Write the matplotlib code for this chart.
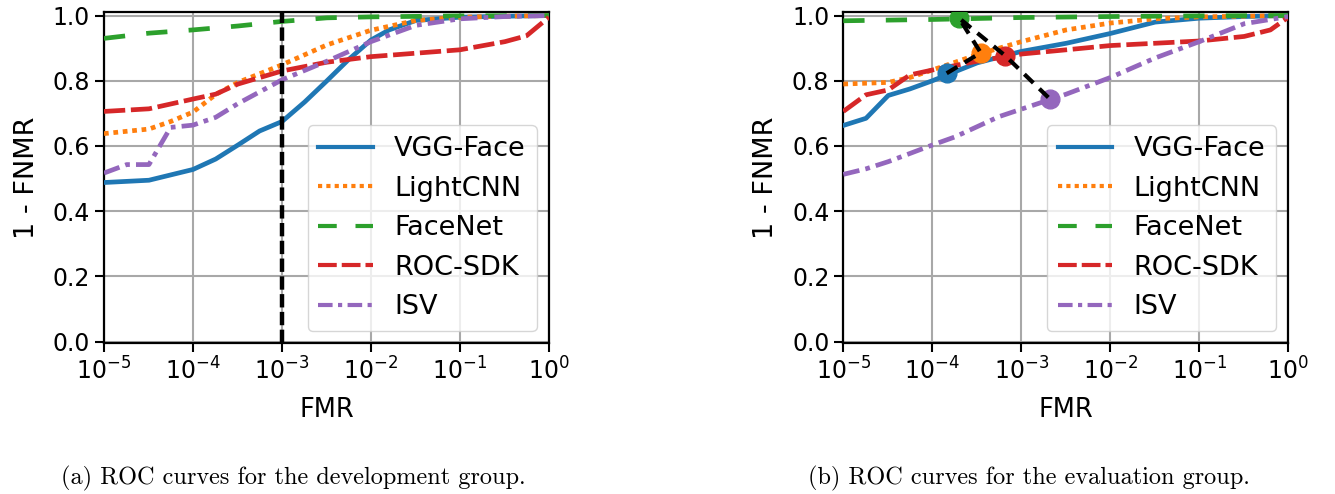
import numpy as np
import matplotlib
matplotlib.use("Agg")
import matplotlib.pyplot as plt
from matplotlib.ticker import NullLocator, LogLocator

# ---- data (FMR, 1 - FNMR) ----
names = ["VGG-Face", "LightCNN", "FaceNet", "ROC-SDK", "ISV"]
colors = ["#1f77b4", "#ff7f0e", "#2ca02c", "#d62728", "#9467bd"]

# (a) development group
dev_vgg_fmr = [1e-5, 3.2e-5, 1e-4, 1.8e-4, 3.2e-4, 5.6e-4, 1e-3, 1.8e-3, 3.2e-3, 5.6e-3, 1e-2, 1.6e-2, 3.2e-2, 0.1, 0.32, 1.0]
dev_vgg_tpr = [0.488, 0.495, 0.528, 0.560, 0.603, 0.646, 0.675, 0.735, 0.800, 0.865, 0.925, 0.956, 0.985, 0.995, 0.998, 1.0]
dev_lcnn_fmr = [1e-5, 3.2e-5, 5.6e-5, 1e-4, 1.8e-4, 3.2e-4, 1e-3, 3.2e-3, 1e-2, 3.2e-2, 0.1, 0.32, 1.0]
dev_lcnn_tpr = [0.638, 0.652, 0.675, 0.704, 0.758, 0.795, 0.849, 0.910, 0.955, 0.985, 0.995, 0.998, 1.0]
dev_fnet_fmr = [1e-5, 3.2e-5, 1e-4, 3.2e-4, 1e-3, 3.2e-3, 1e-2, 0.1, 1.0]
dev_fnet_tpr = [0.930, 0.946, 0.956, 0.968, 0.982, 0.993, 0.996, 0.999, 1.0]
dev_roc_fmr = [1e-5, 3.2e-5, 1e-4, 1.8e-4, 3.2e-4, 1e-3, 3.2e-3, 1e-2, 0.1, 0.32, 0.56, 1.0]
dev_roc_tpr = [0.706, 0.714, 0.744, 0.759, 0.790, 0.830, 0.857, 0.874, 0.895, 0.920, 0.938, 0.995]
dev_isv_fmr = [1e-5, 1.8e-5, 3.2e-5, 5.6e-5, 1e-4, 1.8e-4, 3.2e-4, 1e-3, 3.2e-3, 1e-2, 3.2e-2, 0.1, 0.32, 1.0]
dev_isv_tpr = [0.517, 0.543, 0.543, 0.657, 0.664, 0.688, 0.730, 0.803, 0.860, 0.920, 0.970, 0.990, 0.997, 1.0]
dev_threshold_fmr = 1e-3

# (b) evaluation group
eval_vgg_fmr = [1e-5, 1.8e-5, 3.2e-5, 5.6e-5, 1e-4, 3.2e-4, 1e-3, 3.2e-3, 1e-2, 3.2e-2, 0.1, 0.32, 1.0]
eval_vgg_tpr = [0.663, 0.685, 0.755, 0.775, 0.800, 0.855, 0.890, 0.915, 0.945, 0.980, 0.992, 0.997, 1.0]
eval_lcnn_fmr = [1e-5, 3.2e-5, 5.6e-5, 1e-4, 3.2e-4, 1e-3, 3.2e-3, 1e-2, 3.2e-2, 0.1, 1.0]
eval_lcnn_tpr = [0.790, 0.795, 0.810, 0.833, 0.880, 0.920, 0.956, 0.977, 0.990, 0.996, 1.0]
eval_fnet_fmr = [1e-5, 1e-4, 1e-3, 1e-2, 0.1, 1.0]
eval_fnet_tpr = [0.984, 0.988, 0.994, 0.997, 0.999, 1.0]
eval_roc_fmr = [1e-5, 1.8e-5, 3.2e-5, 5.6e-5, 1e-4, 3.2e-4, 1e-3, 3.2e-3, 1e-2, 0.1, 0.32, 0.63, 1.0]
eval_roc_tpr = [0.706, 0.757, 0.772, 0.818, 0.833, 0.860, 0.882, 0.895, 0.908, 0.922, 0.936, 0.956, 0.995]
eval_isv_fmr = [1e-5, 1.8e-5, 3.2e-5, 1e-4, 1.8e-4, 5.6e-4, 3.2e-3, 1e-2, 3.2e-2, 0.1, 0.32, 1.0]
eval_isv_tpr = [0.513, 0.530, 0.552, 0.603, 0.628, 0.690, 0.759, 0.810, 0.870, 0.920, 0.975, 0.997]

# operating points on the eval set (same order as names)
op_fmr = [1.45e-4, 3.5e-4, 2.0e-4, 6.6e-4, 2.1e-3]
op_tpr = [0.823, 0.886, 0.992, 0.877, 0.744]
op_path = [0, 1, 2, 3, 4]  # order of the black connecting line

captions = ["(a) ROC curves for the development group.",
            "(b) ROC curves for the evaluation group."]

styles = ["-", (0, (1, 1)), (0, (4.5, 4.5)), (0, (4.5, 1.2)), (0, (3.5, 1.3, 1, 1.3))]

plt.rcParams["font.family"] = ["DejaVu Sans"]
plt.rcParams["font.size"] = 17

fig = plt.figure(figsize=(13.35, 4.94), dpi=100)
ax1 = fig.add_axes([0.0779, 0.3051, 0.3333, 0.670])
ax2 = fig.add_axes([0.6317, 0.3051, 0.3333, 0.670])

dev = [(dev_vgg_fmr, dev_vgg_tpr), (dev_lcnn_fmr, dev_lcnn_tpr), (dev_fnet_fmr, dev_fnet_tpr),
       (dev_roc_fmr, dev_roc_tpr), (dev_isv_fmr, dev_isv_tpr)]
ev = [(eval_vgg_fmr, eval_vgg_tpr), (eval_lcnn_fmr, eval_lcnn_tpr), (eval_fnet_fmr, eval_fnet_tpr),
      (eval_roc_fmr, eval_roc_tpr), (eval_isv_fmr, eval_isv_tpr)]

for ax, curves in [(ax1, dev), (ax2, ev)]:
    for (x, y), name, c, ls in zip(curves, names, colors, styles):
        ax.plot(x, y, color=c, linestyle=ls, linewidth=3.4, label=name, zorder=3)

ax1.axvline(dev_threshold_fmr, color="black", linestyle=(0, (3, 1)), linewidth=3.2, zorder=4)

for i in range(len(names)):
    ax2.plot(op_fmr[i], op_tpr[i], "o", color=colors[i], markersize=13.5, zorder=5)
ax2.plot([op_fmr[i] for i in op_path], [op_tpr[i] for i in op_path], color="black",
         linestyle=(0, (3, 2)), linewidth=3, zorder=6)

for ax in (ax1, ax2):
    ax.set_xscale("log")
    ax.set_xlim(1e-5, 1.0)
    ax.set_ylim(-0.005, 1.01)
    ax.set_yticks([0.0, 0.2, 0.4, 0.6, 0.8, 1.0])
    ax.xaxis.set_major_locator(LogLocator(base=10, numticks=10))
    ax.xaxis.set_minor_locator(NullLocator())
    ax.grid(True, color="#a8a8a8", linewidth=1.5)
    ax.set_axisbelow(True)
    for s in ax.spines.values():
        s.set_linewidth(1.6)
    ax.tick_params(length=6.5, width=1.5)
    ax.set_xlabel("FMR", fontsize=18.5, labelpad=9)
    ax.set_ylabel("1 - FNMR", fontsize=19.5, labelpad=9)
    leg = ax.legend(loc="lower right", handlelength=2.0, fontsize=19.5, labelspacing=0.5,
                    borderaxespad=0.45)
    for ln in leg.get_lines():
        ln.set_linewidth(3)

fig.text(0.2199, 0.032, captions[0], ha="center", va="center", family="cmr10", fontsize=17.5)
fig.text(0.771, 0.032, captions[1], ha="center", va="center", family="cmr10", fontsize=17.5)

fig.savefig("out.png", dpi=100)
